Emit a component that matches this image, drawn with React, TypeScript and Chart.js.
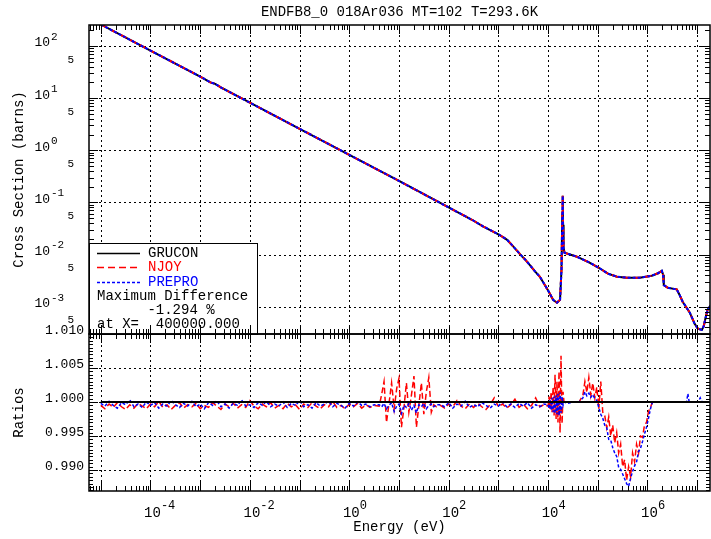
import React, { useEffect, useRef } from "react";
import { Chart, registerables } from "chart.js";

Chart.register(...registerables);

// ---------------- text ----------------
const TITLE = "ENDFB8_0 018Ar036 MT=102 T=293.6K";
const X_TITLE = "Energy (eV)";
const Y_TOP_TITLE = "Cross Section (barns)";
const Y_BOT_TITLE = "Ratios";
const SERIES_NAMES = ["GRUCON", "NJOY", "PREPRO"];
const SERIES_COLORS = ["#000000", "#ff0000", "#0000ff"];
const LEGEND_NOTES = ["Maximum Difference", "      -1.294 %", "at X=  400000.000"];

// ---------------- axis ranges / ticks ----------------
const X_MIN = 5.79e-6;
const X_MAX = 1.81e7;
const YT_MIN = 3.04e-4;
const YT_MAX = 252;
const YB_MIN = 0.98691;
const YB_MAX = 1.01;
const xLabelDecades = [-4, -2, 0, 2, 4, 6];
const xGridDecades = [-5, -4, -3, -2, -1, 0, 1, 2, 3, 4, 5, 6, 7];
const yTopLabelDecades = [-3, -2, -1, 0, 1, 2];
const yTopFiveDecades = [-4, -3, -2, -1, 0, 1];
const yBotLabels = ["1.010", "1.005", "1.000", "0.995", "0.990"];
const yBotGrid = [0.99, 0.995, 1.0, 1.005];

// ---------------- cross section (top panel) ----------------
const xsEnergy = [
  1e-5, 1e-4, 1e-3, 1.6e-3, 2.0e-3, 2.6e-3, 1e-2, 0.1, 1, 10, 100, 300, 500, 1000, 1500, 2000,
  2720, 3500, 4300, 5400, 6840, 1.0e4, 1.26e4, 1.51e4, 1.74e4, 1.86e4, 1.93e4, 1.97e4, 2.0e4,
  2.05e4, 2.14e4, 3.8e4, 6.95e4, 1.05e5, 1.6e5, 2.43e5, 3.86e5, 7.0e5, 1.22e6, 1.63e6, 1.94e6,
  2.06e6, 2.13e6, 2.56e6, 3.4e6, 3.88e6, 4.4e6, 5.1e6, 7.1e6, 8.9e6, 1.03e7, 1.24e7, 1.35e7,
  1.48e7, 1.62e7, 1.78e7, 2.0e7,
];
const xsValue = [
  258, 81.5, 25.8, 20.0, 18.8, 16.0, 8.16, 2.58, 0.816, 0.258, 0.08, 0.046, 0.0345, 0.0245,
  0.0192, 0.0142, 0.0102, 0.0079, 0.0063, 0.0048, 0.00375, 0.00205, 0.00136, 0.00119, 0.00136,
  0.0051, 0.0578, 0.134, 0.0372, 0.0135, 0.0108, 0.0091, 0.00696, 0.00558, 0.0043, 0.00376,
  0.0036, 0.0036, 0.00393, 0.00438, 0.0049, 0.0041, 0.0026, 0.00231, 0.0022, 0.00215, 0.0017,
  0.00125, 0.00077, 0.00047, 0.00038, 0.00036, 0.00042, 0.00062, 0.00088, 0.001, 0.00115,
];

// ---------------- ratios (bottom panel) ----------------
const ratioEnergy = [
  1e-5, 1.21e-5, 1.47e-5, 1.78e-5, 2.15e-5, 2.61e-5, 3.16e-5, 3.83e-5, 4.64e-5, 5.62e-5, 6.81e-5, 8.25e-5,
  1e-4, 1.21e-4, 1.47e-4, 1.78e-4, 2.15e-4, 2.61e-4, 3.16e-4, 3.83e-4, 4.64e-4, 5.62e-4, 6.81e-4, 8.25e-4,
  1e-3, 1.21e-3, 1.47e-3, 1.78e-3, 2.15e-3, 2.61e-3, 3.16e-3, 3.83e-3, 4.64e-3, 5.62e-3, 6.81e-3, 8.25e-3,
  1e-2, 1.21e-2, 1.47e-2, 1.78e-2, 2.15e-2, 2.61e-2, 3.16e-2, 3.83e-2, 4.64e-2, 5.62e-2, 6.81e-2, 8.25e-2,
  0.1, 0.121, 0.147, 0.178, 0.215, 0.261, 0.316, 0.383, 0.464, 0.562, 0.681, 0.825,
  1, 1.21, 1.47, 1.78, 2.15, 2.61, 3.16,
  4.0, 4.5, 5.0, 5.6, 6.3, 7.1, 8.0, 9.0, 10, 11.2, 12.6, 14.1, 15.8, 17.8, 20, 22.4, 25.1,
  28.2, 31.6, 35.5, 39.8, 44.7, 50.1, 56.2,
  68.1, 82.5, 100, 121, 147, 178, 215, 261, 316, 383, 464, 562, 681, 825, 1000, 1210, 1470,
  1780, 2150, 2610, 3160, 3830, 4640, 5620, 6810, 8250,
  1.0e4, 1.05e4, 1.1e4, 1.15e4, 1.2e4, 1.26e4, 1.32e4, 1.38e4, 1.45e4, 1.51e4, 1.58e4,
  1.66e4, 1.74e4, 1.82e4, 1.91e4, 2.0e4, 2.09e4,
  2.5e4, 3.2e4, 4.2e4,
  5.01e4, 5.5e4, 6.03e4, 6.61e4, 7.24e4, 7.94e4, 8.71e4, 9.55e4, 1.047e5, 1.148e5, 1.259e5,
  1.38e5, 1.514e5, 1.66e5, 1.82e5, 1.995e5, 2.188e5, 2.399e5, 2.63e5, 2.884e5, 3.162e5,
  3.467e5, 3.802e5, 4.169e5, 4.571e5, 5.012e5, 5.495e5, 6.026e5, 6.607e5, 7.244e5, 7.943e5,
  8.71e5, 9.55e5, 1.047e6, 1.148e6, 1.259e6,
  1.5e6, 3e6, 6.1e6, 6.5e6, 6.9e6, 1.05e7, 1.15e7, 1.25e7, 1.8e7,
];
const njoyRatio = [
  0.9995, 0.999, 0.9997, 0.9992, 0.9999, 0.9993, 0.9989, 0.9996, 0.9991, 0.9998, 0.9994, 0.999,
  0.9997, 0.9993, 1.0001, 0.9992, 0.9996, 0.9989, 0.9995, 0.9999, 0.9991, 0.9996, 0.9993, 0.9998,
  0.999, 0.9995, 0.9992, 0.9999, 0.9994, 0.9989, 0.9997, 0.9993, 0.9998, 0.9991, 0.9996, 0.9992,
  1.0002, 0.9994, 0.999, 0.9997, 0.9993, 0.9999, 0.9991, 0.9995, 0.999, 0.9998, 0.9993, 0.9996,
  0.9989, 0.9997, 0.9992, 0.9999, 0.9994, 0.999, 0.9996, 0.9993, 1.0001, 0.9992, 0.9995, 0.999,
  0.9997, 0.9993, 0.9998, 0.9991, 0.9996, 0.9992, 0.9995,
  0.9994, 1.0012, 1.003, 0.997, 0.9998, 1.0028, 0.999, 1.002, 1.0035, 0.9963, 0.9992, 1.0028,
  0.9985, 1.001, 1.0038, 0.9963, 0.9995, 1.0028, 0.9982, 1.0015, 1.0036, 0.9985, 0.9996, 0.9993,
  0.9995, 0.9991, 0.9997, 0.9993, 1.0002, 0.9994, 0.999, 0.9997, 0.9992, 0.9998, 0.9993, 0.9989,
  0.9996, 1.0006, 0.9993, 0.9997, 0.9991, 0.9996, 1.0004, 0.9992, 0.9997, 0.999, 0.9995, 1.0006,
  0.9993, 0.9996,
  0.9994, 1.0008, 0.9988, 1.0015, 0.9985, 1.0022, 0.998, 1.004, 0.9975, 1.003, 0.997, 1.0045,
  0.9955, 1.0068, 0.9968, 1.0015, 1.0,
  1.0, 1.0, 1.0,
  1.001, 1.003, 1.0014, 1.0036, 1.001, 1.0028, 1.0006, 1.0022, 0.999, 1.003, 0.9985, 0.998,
  0.9962, 0.9978, 0.995, 0.9966, 0.994, 0.9955, 0.9925, 0.9938, 0.9905, 0.9915, 0.9885,
  0.9905, 0.989, 0.9925, 0.9912, 0.9938, 0.9925, 0.995, 0.9948, 0.9966, 0.997, 0.9986,
  0.9992, 1.0,
  1.0, 1.0, 1.0, 1.0, 1.0, 1.0, 1.0, 1.0, 1.0,
];
const preproRatio = [
  0.9998, 0.9994, 1.0001, 0.9995, 0.9991, 0.9999, 0.9996, 1.0003, 0.9993, 0.9997, 0.9992, 1.0,
  0.9995, 0.9999, 0.9991, 0.9997, 0.9994, 1.0002, 0.9996, 0.9992, 0.9998, 0.9994, 1.0001, 0.9993,
  0.9997, 0.999, 0.9999, 0.9995, 1.0002, 0.9993, 0.9997, 0.9991, 0.9998, 0.9995, 1.0003, 0.9994,
  0.9996, 0.9992, 0.9999, 0.9995, 1.0001, 0.9993, 0.9997, 0.9994, 1.0, 0.9992, 0.9998, 0.9995,
  1.0002, 0.9993, 0.9996, 0.9991, 0.9999, 0.9994, 0.9997, 1.0001, 0.9993, 0.9998, 0.9995, 0.9991,
  0.9998, 0.9994, 1.0, 0.9995, 0.9997, 0.9993, 0.9996,
  0.9996, 0.9993, 0.9998, 0.999, 0.9995, 0.9999, 0.9986, 0.9994, 0.9997, 0.9983, 0.9995,
  0.9992, 0.9998, 0.9988, 0.9995, 0.9984, 0.9996, 0.9993, 0.9998, 0.999, 0.9995, 0.9997,
  0.9993, 0.9996,
  0.9996, 0.9993, 0.9999, 0.9991, 0.9997, 0.9994, 1.0001, 0.9992, 0.9996, 0.9993, 0.9999,
  0.9995, 0.9991, 0.9997, 0.9994, 1.0, 0.9993, 0.9997, 0.9992, 0.9998, 0.9994, 0.9999, 0.9991,
  0.9996, 0.9993, 0.9997,
  0.9996, 0.999, 1.0004, 0.9988, 1.0006, 0.9985, 1.0008, 0.9983, 1.001, 0.9982, 1.0012,
  0.998, 1.0014, 0.9984, 1.0008, 0.9995, 1.0,
  0.9998, 1.0, 1.0,
  1.0006, 1.0015, 1.0009, 1.0013, 1.0007, 1.0011, 1.0005, 1.0002, 0.9992, 0.9982, 0.9976,
  0.9966, 0.9962, 0.9945, 0.9944, 0.9933, 0.9925, 0.992, 0.9904, 0.9901, 0.9894, 0.9887,
  0.988, 0.9876, 0.9888, 0.9898, 0.9906, 0.9912, 0.9927, 0.9932, 0.9942, 0.9953, 0.9963,
  0.9976, 0.999, 1.0,
  1.0, 1.0, 1.0, 1.0012, 1.0, 1.0, 1.0006, 1.0, 1.0,
];
const gruconRatioEnergy = [1e-5, 1.8e7];
const gruconRatio = [1.0, 1.0];

// ---------------- drawing helpers ----------------
const W = 711;
const H = 539;
const FAMILY = '"Liberation Mono", "DejaVu Sans Mono", monospace';
const font = (s: number) => `${s}px ${FAMILY}`;
const toPoints = (xs: number[], ys: number[]) => xs.map((x, i) => ({ x, y: ys[i] }));

const decorations = {
  id: "decorations",
  beforeDatasetsDraw(chart: any) {
    const { ctx, chartArea: ca, scales } = chart;
    const sx = scales.x, st = scales.yTop, sb = scales.yBot;
    ctx.save();
    ctx.strokeStyle = "#000";
    ctx.lineWidth = 1;
    ctx.setLineDash([2, 3]);
    ctx.beginPath();
    for (const d of xGridDecades) {
      const px = Math.round(sx.getPixelForValue(Math.pow(10, d))) + 0.5;
      ctx.moveTo(px, st.top);
      ctx.lineTo(px, sb.bottom);
    }
    for (const d of yTopLabelDecades) {
      const py = Math.round(st.getPixelForValue(Math.pow(10, d))) + 0.5;
      ctx.moveTo(ca.left, py);
      ctx.lineTo(ca.right, py);
    }
    for (const v of yBotGrid) {
      const py = Math.round(sb.getPixelForValue(v)) + 0.5;
      ctx.moveTo(ca.left, py);
      ctx.lineTo(ca.right, py);
    }
    ctx.stroke();
    ctx.restore();
  },
  afterDatasetsDraw(chart: any) {
    const { ctx, chartArea: ca, scales } = chart;
    const sx = scales.x, st = scales.yTop, sb = scales.yBot;
    ctx.save();
    ctx.setLineDash([]);
    ctx.strokeStyle = "#000";
    ctx.fillStyle = "#000";

    // y ticks (both panels, left & right, inward)
    ctx.lineWidth = 1;
    ctx.beginPath();
    for (let d = -4; d <= 2; d++) {
      for (let m = 1; m <= 9; m++) {
        const v = m * Math.pow(10, d);
        if (v < YT_MIN || v > YT_MAX) continue;
        const py = Math.round(st.getPixelForValue(v)) + 0.5;
        const len = m === 1 ? 9 : 5;
        ctx.moveTo(ca.left, py); ctx.lineTo(ca.left + len, py);
        ctx.moveTo(ca.right, py); ctx.lineTo(ca.right - len, py);
      }
    }
    for (let k = 1974; k <= 2020; k++) {
      const v = k / 2000;
      if (v < YB_MIN || v > YB_MAX) continue;
      const py = Math.round(sb.getPixelForValue(v)) + 0.5;
      const len = k % 10 === 0 ? 9 : 4;
      ctx.moveTo(ca.left, py); ctx.lineTo(ca.left + len, py);
      ctx.moveTo(ca.right, py); ctx.lineTo(ca.right - len, py);
    }
    ctx.stroke();

    // legend box
    const lx = ca.left, ly = 243, lw = 168, lh = st.bottom - 243;
    ctx.fillStyle = "#fff";
    ctx.fillRect(lx, ly, lw, lh);
    ctx.lineWidth = 1;
    ctx.strokeRect(lx + 0.5, ly + 0.5, lw, lh);
    const rowsY = [253, 267, 282];
    const dashes = [[], [7, 4], [3, 2]];
    ctx.font = font(14);
    ctx.textBaseline = "middle";
    ctx.textAlign = "left";
    for (let i = 0; i < 3; i++) {
      ctx.beginPath();
      ctx.setLineDash(dashes[i]);
      ctx.strokeStyle = SERIES_COLORS[i];
      ctx.lineWidth = 1.5;
      ctx.moveTo(97, rowsY[i] + 0.5);
      ctx.lineTo(140, rowsY[i] + 0.5);
      ctx.stroke();
      ctx.fillStyle = SERIES_COLORS[i];
      ctx.fillText(SERIES_NAMES[i], 148, rowsY[i]);
    }
    ctx.setLineDash([]);
    ctx.fillStyle = "#000";
    ctx.fillText(LEGEND_NOTES[0], 97, 296);
    ctx.fillText(LEGEND_NOTES[1], 97, 310);
    ctx.fillText(LEGEND_NOTES[2], 97, 324);

    // x ticks
    ctx.strokeStyle = "#000";
    ctx.lineWidth = 1;
    ctx.beginPath();
    for (let d = -6; d <= 7; d++) {
      for (let m = 1; m <= 9; m++) {
        const v = m * Math.pow(10, d);
        if (v < X_MIN || v > X_MAX) continue;
        const px = Math.round(sx.getPixelForValue(v)) + 0.5;
        const len = m === 1 ? 9 : 5;
        ctx.moveTo(px, st.top); ctx.lineTo(px, st.top + len);
        ctx.moveTo(px, st.bottom); ctx.lineTo(px, st.bottom - len);
        ctx.moveTo(px, sb.top); ctx.lineTo(px, sb.top + len);
        ctx.moveTo(px, sb.bottom); ctx.lineTo(px, sb.bottom - len);
      }
    }
    ctx.stroke();

    // frames
    ctx.lineWidth = 1.5;
    ctx.strokeRect(ca.left, st.top, ca.right - ca.left, st.bottom - st.top);
    ctx.strokeRect(ca.left, sb.top, ca.right - ca.left, sb.bottom - sb.top);

    // x labels
    ctx.fillStyle = "#000";
    ctx.textBaseline = "middle";
    for (const d of xLabelDecades) {
      const px = sx.getPixelForValue(Math.pow(10, d)) + 2;
      ctx.font = font(14);
      ctx.textAlign = "center";
      ctx.fillText("10", px, 513);
      const w = ctx.measureText("10").width;
      ctx.font = font(12);
      ctx.textAlign = "left";
      ctx.fillText(String(d), px + w / 2, 506);
    }
    ctx.font = font(14);
    ctx.textAlign = "center";
    ctx.fillText(X_TITLE, (ca.left + ca.right) / 2, 527);

    // y labels top
    for (const d of yTopLabelDecades) {
      const py = st.getPixelForValue(Math.pow(10, d)) - 3;
      ctx.font = font(13);
      ctx.textAlign = "right";
      ctx.fillText("10", 50, py);
      ctx.font = font(11);
      ctx.textAlign = "left";
      ctx.fillText(String(d), 51, py - 6);
    }
    ctx.font = font(11);
    ctx.textAlign = "right";
    for (const d of yTopFiveDecades) {
      const py = st.getPixelForValue(5 * Math.pow(10, d)) - 2;
      ctx.fillText("5", 74, py);
    }
    // y labels bottom
    ctx.font = font(13);
    ctx.textAlign = "right";
    for (const s of yBotLabels) {
      const py = sb.getPixelForValue(parseFloat(s)) - 3;
      ctx.fillText(s, 84, py);
    }

    // axis titles
    ctx.font = font(14);
    ctx.textAlign = "center";
    ctx.save();
    ctx.translate(19, (st.top + st.bottom) / 2);
    ctx.rotate(-Math.PI / 2);
    ctx.fillText(Y_TOP_TITLE, 0, 0);
    ctx.restore();
    ctx.save();
    ctx.translate(19, (sb.top + sb.bottom) / 2);
    ctx.rotate(-Math.PI / 2);
    ctx.fillText(Y_BOT_TITLE, 0, 0);
    ctx.restore();

    // title
    ctx.font = font(14);
    ctx.textAlign = "center";
    ctx.fillText(TITLE, (ca.left + ca.right) / 2, 12);
    ctx.restore();
  },
};

export default function App() {
  const ref = useRef<HTMLCanvasElement>(null);
  useEffect(() => {
    if (!ref.current) return;
    const chart = new Chart(ref.current, {
      type: "line",
      data: {
        datasets: [
          {
            label: "GRUCON ratio",
            data: toPoints(gruconRatioEnergy, gruconRatio),
            yAxisID: "yBot",
            borderColor: SERIES_COLORS[0],
            borderWidth: 2,
            order: 0,
          },
          {
            label: "PREPRO",
            data: toPoints(xsEnergy, xsValue),
            yAxisID: "yTop",
            borderColor: SERIES_COLORS[2],
            borderWidth: 2,
            borderDash: [3, 2],
            order: 1,
          },
          {
            label: "PREPRO ratio",
            data: toPoints(ratioEnergy, preproRatio),
            yAxisID: "yBot",
            borderColor: SERIES_COLORS[2],
            borderWidth: 1.5,
            borderDash: [3, 2],
            order: 1,
          },
          {
            label: "NJOY",
            data: toPoints(xsEnergy, xsValue),
            yAxisID: "yTop",
            borderColor: SERIES_COLORS[1],
            borderWidth: 2,
            borderDash: [7, 4],
            order: 2,
          },
          {
            label: "NJOY ratio",
            data: toPoints(ratioEnergy, njoyRatio),
            yAxisID: "yBot",
            borderColor: SERIES_COLORS[1],
            borderWidth: 1.5,
            borderDash: [6, 3],
            order: 2,
          },
          {
            label: "GRUCON",
            data: toPoints(xsEnergy, xsValue),
            yAxisID: "yTop",
            borderColor: SERIES_COLORS[0],
            borderWidth: 2,
            order: 3,
          },
        ],
      },
      options: {
        animation: false,
        responsive: false,
        maintainAspectRatio: false,
        events: [],
        layout: { padding: { left: 89, right: 1, top: 25, bottom: 48 } },
        elements: { point: { radius: 0 }, line: { tension: 0, fill: false } },
        plugins: {
          legend: { display: false },
          title: { display: false },
          tooltip: { enabled: false },
        },
        scales: {
          x: { type: "logarithmic", min: X_MIN, max: X_MAX, display: false, position: "bottom" },
          yBot: {
            type: "linear",
            axis: "y",
            position: "left",
            min: YB_MIN,
            max: YB_MAX,
            display: false,
            stack: "panels",
            stackWeight: 157,
          },
          yTop: {
            type: "logarithmic",
            axis: "y",
            position: "left",
            min: YT_MIN,
            max: YT_MAX,
            display: false,
            stack: "panels",
            stackWeight: 309,
          },
        },
      } as any,
      plugins: [decorations],
    });
    return () => chart.destroy();
  }, []);
  return (
    <div style={{ position: "fixed", left: 0, top: 0, width: W, height: H, background: "#fff" }}>
      <canvas ref={ref} width={W} height={H} style={{ display: "block" }} />
    </div>
  );
}
